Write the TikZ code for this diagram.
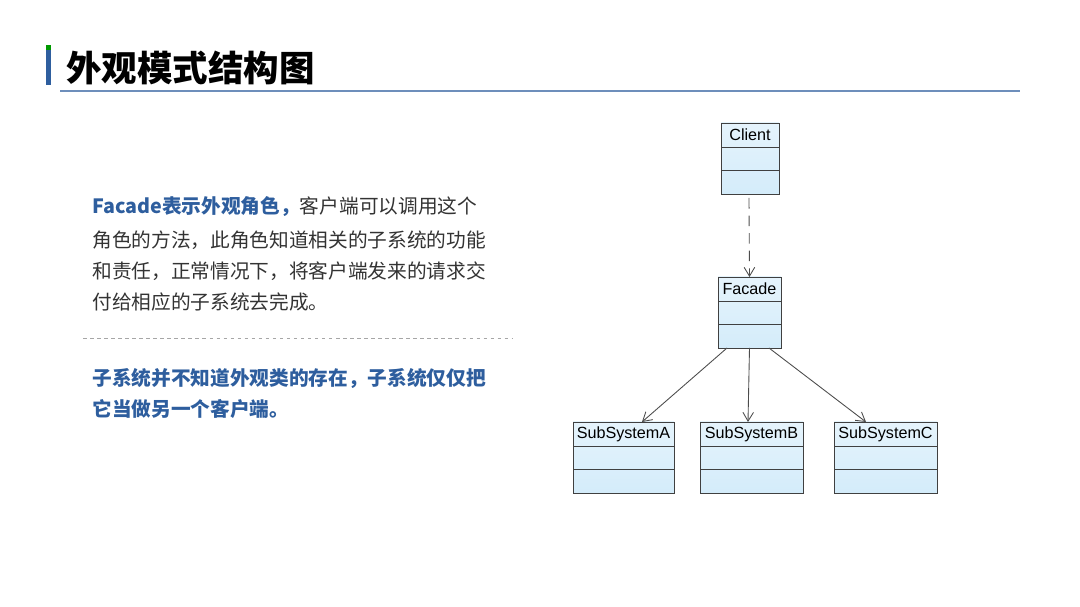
\documentclass[tikz,border=0pt]{standalone}
\usepackage{fontspec}
\setmainfont{Liberation Sans}
\newfontfamily\cjk{Noto Sans CJK SC}
\usetikzlibrary{arrows.meta}
\definecolor{tblue}{HTML}{2E5E9E}
\definecolor{boxfill}{HTML}{D4ECFA}
\begin{document}
\begin{tikzpicture}[x=0.02cm,y=-0.02cm,
  txt/.style={anchor=west,inner sep=0pt,font=\cjk\fontsize{11.2}{12}\selectfont,text=black!80},
  btxt/.style={txt,text=tblue,font=\cjk\bfseries\fontsize{11.2}{12}\selectfont},
  cls/.style={draw=black!75,line width=0.5pt,top color=boxfill!60,bottom color=boxfill},
  lbl/.style={inner sep=0pt,font=\fontsize{9.2}{10}\selectfont},
  open/.style={-{Straight Barb[length=5pt,width=6pt]},draw=black!70,line width=0.5pt}]
\useasboundingbox (0,0) rectangle (1080,607);
\fill[tblue] (46,45) rectangle (51,85);
\fill[green!60!black] (46,45) rectangle (51,50);
\node[anchor=west,inner sep=0pt,font=\cjk\bfseries\fontsize{20.2}{22}\selectfont] (title) at (66,68) {外观模式结构图};
\draw[tblue!70,line width=0.8pt] (60,91) -- (1020,91);
\node[txt] (p1) at (92,207) {\textcolor{tblue}{\bfseries Facade表示外观角色，}客户端可以调用这个};
\node[txt] (p2) at (92,240) {角色的方法，此角色知道相关的子系统的功能};
\node[txt] (p3) at (92,271) {和责任，正常情况下，将客户端发来的请求交};
\node[txt] (p4) at (92,302) {付给相应的子系统去完成。};
\draw[black!35,dashed,dash pattern=on 2pt off 2pt] (83,338) -- (512,338);
\node[btxt] (q1) at (92,378) {子系统并不知道外观类的存在，子系统仅仅把};
\node[btxt] (q2) at (92,409) {它当做另一个客户端。};
% classes
\newcommand\umlclass[6]{%
  \draw[cls] (#2,#3) rectangle (#4,#5);
  \draw[black!75,line width=0.5pt] (#2,#3+24) -- (#4,#3+24) (#2,#3+47) -- (#4,#3+47);
  \node[lbl] (#1-l) at ({(#2+#4)/2},#3+12) {#6};
  \coordinate (#1-t) at ({(#2+#4)/2},#3);
  \coordinate (#1-b) at ({(#2+#4)/2},#5);
}
\umlclass{cl}{721}{123}{779}{194}{Client}
\umlclass{fa}{718}{277}{781}{348}{Facade}
\umlclass{sa}{573}{422}{674}{493}{SubSystemA}
\umlclass{sb}{700}{422}{803}{493}{SubSystemB}
\umlclass{sc}{834}{422}{937}{493}{SubSystemC}
\coordinate (fa1) at (727,348);
\coordinate (fa2) at (769,348);
\coordinate (sat) at (642,422);
\coordinate (sbt) at (748,422);
\coordinate (sct) at (866,422);
\coordinate (clb) at (749,198);
\draw[open,dashed,dash pattern=on 6pt off 4pt] (clb) -- (fa-t);
\draw[open] (fa1) -- (sat);
\draw[open] (fa-b) -- (sbt);
\draw[open] (fa2) -- (sct);
\end{tikzpicture}
\end{document}
